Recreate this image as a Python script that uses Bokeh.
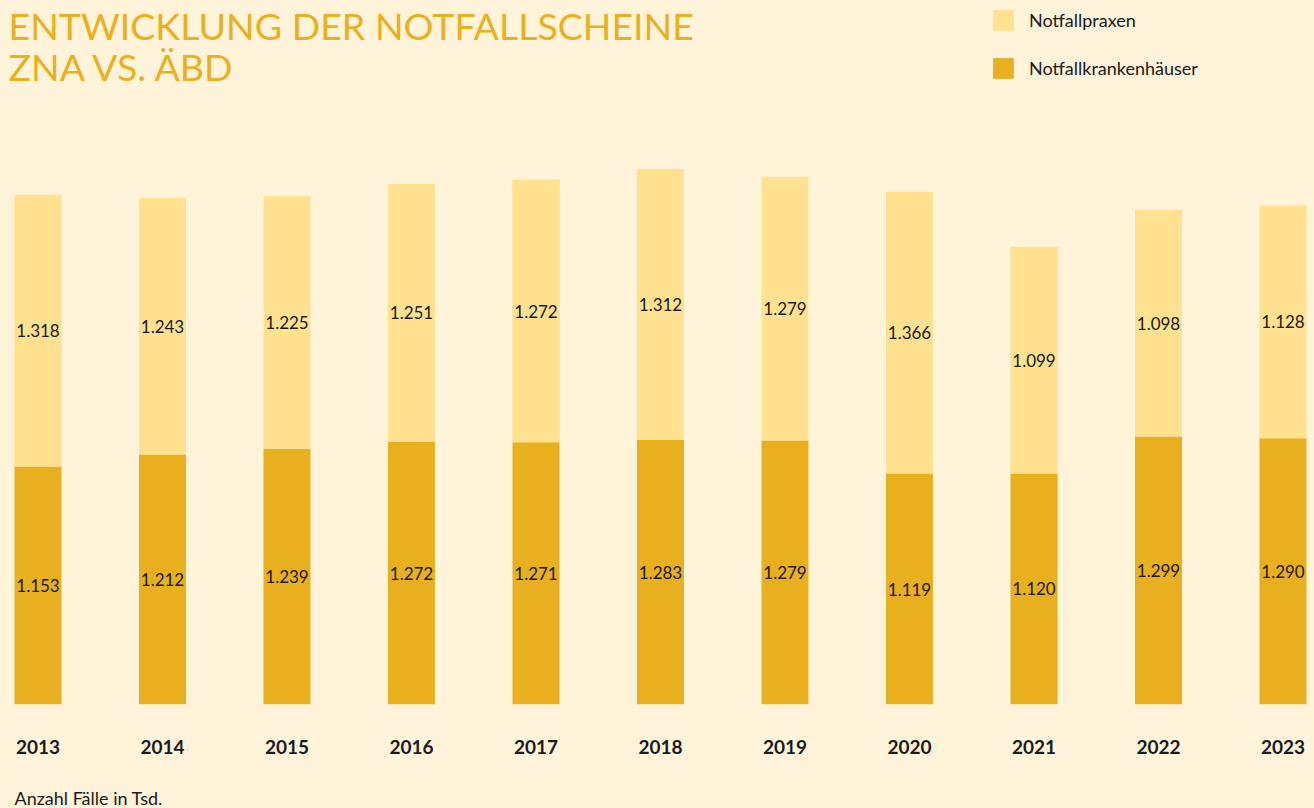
from bokeh.plotting import figure
from bokeh.models import (Range1d, FixedTicker, Label, Legend, LegendItem,
                          ColumnDataSource, Title)
from bokeh.core.properties import value
from bokeh.embed import file_html
from bokeh.resources import INLINE
from jinja2 import Template

# ---- data ----
years = [2013, 2014, 2015, 2016, 2017, 2018, 2019, 2020, 2021, 2022, 2023]
krankenhaeuser = [1153, 1212, 1239, 1272, 1271, 1283, 1279, 1119, 1120, 1299, 1290]
praxen = [1318, 1243, 1225, 1251, 1272, 1312, 1279, 1366, 1099, 1098, 1128]
series_names = ["Notfallpraxen", "Notfallkrankenhäuser"]
title_lines = ["ENTWICKLUNG DER NOTFALLSCHEINE", "ZNA VS. ÄBD"]
footer = "Anzahl Fälle in Tsd."

# ---- style ----
BG = "#FFF3D9"
LIGHT = "#FFE18F"
DARK = "#E8AF1E"
TITLE_C = "#E9B020"
TXT = "#1A1A1A"
FONT = "Lato"
TITLE_FONT = "Lato"

W, H = 1314, 808
BOTTOM = 104
FRAME_H = H - BOTTOM
step = 124.5
first_center = 37.5

def fmt(v):
    return f"{v / 1000:.3f}"

src = ColumnDataSource(dict(
    year=years,
    kh=krankenhaeuser,
    px=praxen,
    kh_y=[k / 2 for k in krankenhaeuser],
    px_y=[k + p / 2 for k, p in zip(krankenhaeuser, praxen)],
    kh_lbl=[fmt(v) for v in krankenhaeuser],
    px_lbl=[fmt(v) for v in praxen],
))

x0 = years[0] - first_center / step
p = figure(width=W, height=H, output_backend="svg", toolbar_location=None,
           x_range=Range1d(x0, x0 + W / step), y_range=Range1d(0, 3412),
           min_border_left=0, min_border_right=0, min_border_top=0,
           min_border_bottom=BOTTOM, background_fill_color=BG,
           border_fill_color=BG, outline_line_color=None)

r = p.vbar_stack(["kh", "px"], x="year", width=47 / step, source=src,
                 color=[DARK, LIGHT], line_color=None)

for ycol, tcol in (("kh_y", "kh_lbl"), ("px_y", "px_lbl")):
    p.text(x="year", y=ycol, text=tcol, source=src, text_align="center",
           text_baseline="middle", text_font=value(FONT),
           text_font_size="17px", text_color=TXT)

p.yaxis.visible = False
p.xgrid.visible = False
p.ygrid.visible = False
ax = p.xaxis[0]
ax.ticker = FixedTicker(ticks=years)
ax.major_label_overrides = {y: str(y) for y in years}
ax.axis_line_color = None
ax.major_tick_line_color = None
ax.minor_tick_line_color = None
ax.major_tick_in = 0
ax.major_tick_out = 0
ax.major_label_standoff = 35
ax.major_label_text_font = FONT
ax.major_label_text_font_style = "bold"
ax.major_label_text_font_size = "19px"
ax.major_label_text_color = TXT
# blank axis label used only as vertical spacer above the footer
ax.axis_label = " "
ax.axis_label_text_font_size = "10px"
ax.axis_label_standoff = 14

for i, t in enumerate(title_lines):
    p.add_layout(Label(x=8, y=FRAME_H - 25 - 41 * i, x_units="screen",
                       y_units="screen", text=t, text_font=TITLE_FONT,
                       text_font_size="37.5px", text_color=TITLE_C,
                       text_baseline="alphabetic"))

p.add_layout(Title(text=footer, align="left", offset=14, standoff=0,
                   text_font=FONT, text_font_style="normal",
                   text_font_size="18px", text_color=TXT), "below")

legend = Legend(items=[LegendItem(label=series_names[0], renderers=[r[1]]),
                       LegendItem(label=series_names[1], renderers=[r[0]])],
                location=(990, FRAME_H - 81), orientation="vertical",
                glyph_width=26, glyph_height=26, spacing=22, padding=0,
                margin=0, label_standoff=13, label_text_font=FONT,
                label_text_font_size="18px", label_text_color=TXT,
                background_fill_alpha=0, border_line_color=None)
p.add_layout(legend)

tmpl = Template("""{% extends base %}
{% block preamble %}<style>html, body { margin: 0 !important; padding: 0 !important; background: """ + BG + """; overflow: hidden; }</style>{% endblock %}
""")

open("out.html", "w").write(file_html(p, INLINE, template=tmpl))
